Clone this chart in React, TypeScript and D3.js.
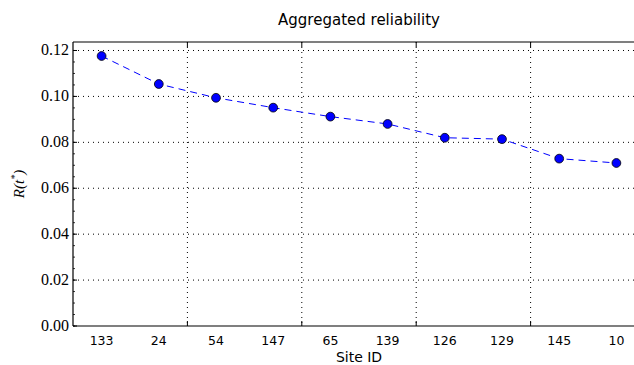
import React from "react";
import * as d3 from "d3";

const sites = ["133", "24", "54", "147", "65", "139", "126", "129", "145", "10"];
const reliability = [0.1176, 0.1054, 0.0994, 0.0951, 0.0912, 0.088, 0.082, 0.0814, 0.0729, 0.071];
const yTicks = [0, 0.02, 0.04, 0.06, 0.08, 0.1, 0.12];
const xGridIdx = [1.5, 3.5, 5.5, 7.5];

export default function App() {
  const W = 634, H = 365;
  const left = 73, top = 42, bottom = 326, right = 645;
  const x = d3.scaleLinear().domain([-0.5, 9.5]).range([left, right]);
  const y = d3.scaleLinear().domain([0, 0.1237]).range([bottom, top]);
  const line = d3.line<number>().x((_, i) => x(i)).y((d) => y(d));
  const minor = d3.range(0, 0.1237, 0.005);
  return (
    <svg width={W} height={H} style={{ position: "fixed", left: 0, top: 0, background: "#fff" }}>
      <rect x={0} y={0} width={W} height={H} fill="#fff" />
      {yTicks.slice(1).map((t) => (
        <line key={"gy" + t} x1={left} x2={right} y1={y(t)} y2={y(t)} stroke="#000" strokeWidth={1} strokeDasharray="1,4" />
      ))}
      {xGridIdx.map((t) => (
        <line key={"gx" + t} x1={x(t)} x2={x(t)} y1={top} y2={bottom} stroke="#000" strokeWidth={1} strokeDasharray="1,4" />
      ))}
      <line x1={left} x2={right} y1={top} y2={top} stroke="#000" strokeWidth={1.2} />
      <line x1={left} x2={right} y1={bottom} y2={bottom} stroke="#000" strokeWidth={1.2} />
      <line x1={left} x2={left} y1={top} y2={bottom} stroke="#000" strokeWidth={1.2} />
      {yTicks.map((t) => (
        <line key={"ty" + t} x1={left} x2={left + 4} y1={y(t)} y2={y(t)} stroke="#000" strokeWidth={1} />
      ))}
      {minor.map((t) => (
        <line key={"my" + t} x1={left} x2={left + 2} y1={y(t)} y2={y(t)} stroke="#000" strokeWidth={0.8} />
      ))}
      {xGridIdx.map((t) => (
        <g key={"tx" + t}>
          <line x1={x(t)} x2={x(t)} y1={top} y2={top + 5} stroke="#000" strokeWidth={1} />
          <line x1={x(t)} x2={x(t)} y1={bottom} y2={bottom - 5} stroke="#000" strokeWidth={1} />
        </g>
      ))}
      {yTicks.map((t) => (
        <text key={"ly" + t} x={left - 4} y={y(t) + 5} textAnchor="end" fontFamily="'Liberation Serif', serif" fontSize={16}>
          {t.toFixed(2)}
        </text>
      ))}
      {sites.map((s, i) => (
        <text key={"lx" + s} x={x(i)} y={345} textAnchor="middle" fontFamily="'DejaVu Sans', sans-serif" fontSize={12.5}>
          {s}
        </text>
      ))}
      <path d={line(reliability) || ""} fill="none" stroke="#0000ff" strokeWidth={1} strokeDasharray="7,5" />
      {reliability.map((v, i) => (
        <circle key={"p" + i} cx={x(i)} cy={y(v)} r={4.4} fill="#0000ff" stroke="#000" strokeWidth={0.8} />
      ))}
      <text x={359} y={25} textAnchor="middle" fontFamily="'DejaVu Sans', sans-serif" fontSize={15}>
        Aggregated reliability
      </text>
      <text x={359} y={362} textAnchor="middle" fontFamily="'DejaVu Sans', sans-serif" fontSize={14}>
        Site ID
      </text>
      <text transform={`translate(24,${(top + bottom) / 2}) rotate(-90)`} textAnchor="middle" fontFamily="'Liberation Serif', serif" fontSize={15} fontStyle="italic">
        R(t<tspan fontSize={10} dy={-6}>*</tspan><tspan dy={6}>)</tspan>
      </text>
    </svg>
  );
}
